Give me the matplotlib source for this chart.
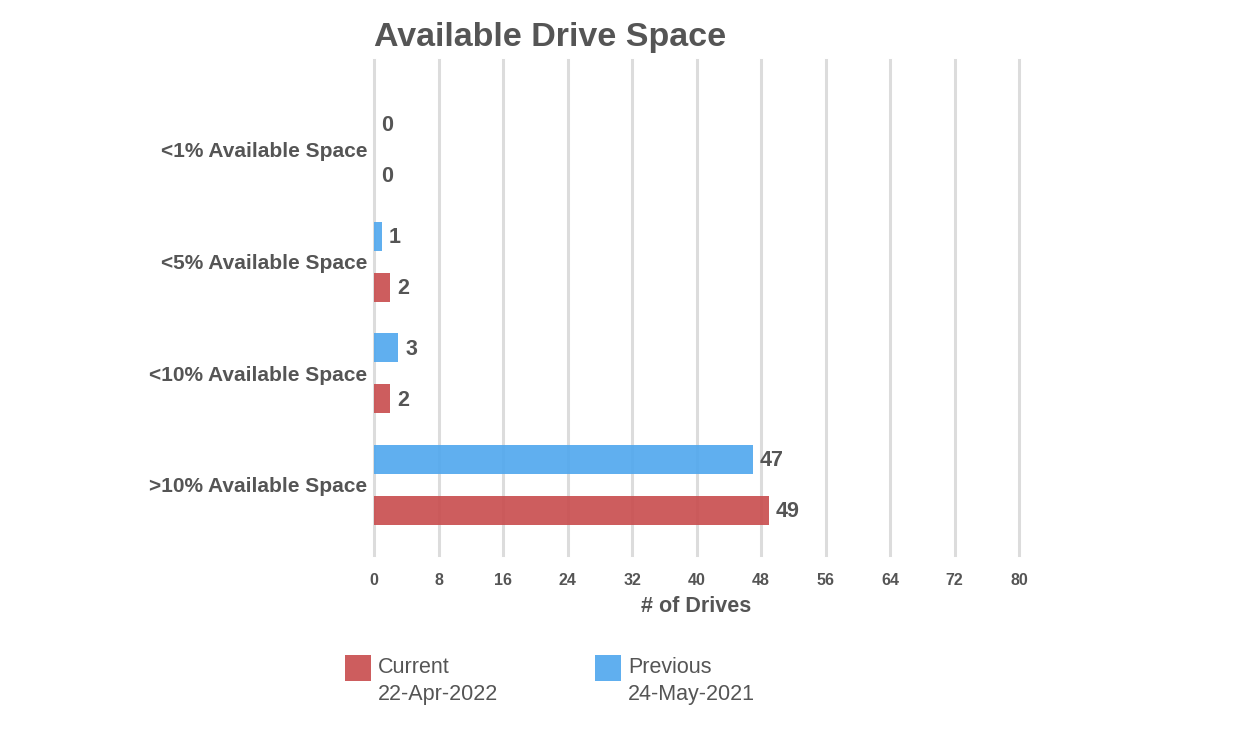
import matplotlib.pyplot as plt
from matplotlib.patches import Rectangle
import numpy as np

plt.rcParams['font.family'] = ['Liberation Sans', 'DejaVu Sans']

categories = ['<1% Available Space', '<5% Available Space',
              '<10% Available Space', '>10% Available Space']
current = [0, 2, 2, 49]
previous = [0, 1, 3, 47]
series_names = ['Current', 'Previous']
series_dates = ['22-Apr-2022', '24-May-2021']
x_ticks = list(range(0, 81, 8))

RED = '#C94F50'
BLUE = '#52A8EE'
TEXT = '#555555'
GRID = '#DCDCDC'

fig = plt.figure(figsize=(12.53, 7.36), dpi=100)
ax = fig.add_axes([0.2985, 0.246, 0.5148, 0.6726])

y = np.arange(len(categories))
bar_h = 0.26
offset = 0.228

ax.barh(y + offset, current, height=bar_h, color=RED, alpha=0.92,
        linewidth=0, zorder=3)
ax.barh(y - offset, previous, height=bar_h, color=BLUE, alpha=0.92,
        linewidth=0, zorder=3)

# value labels
for i in range(len(categories)):
    for val, pos in ((current[i], y[i] + offset), (previous[i], y[i] - offset)):
        ax.annotate(str(val), (val, pos), xytext=(5, -1), textcoords='offset points',
                    ha='left', va='center', fontsize=15.5, fontweight='bold',
                    color=TEXT)

ax.set_xlim(0, 80)
ax.set_ylim(3.627, -0.806)
ax.set_xticks(x_ticks)
ax.set_xticklabels([str(t) for t in x_ticks], fontsize=11.5, fontweight='bold',
                   color=TEXT)
ax.set_yticks(y)
ax.set_yticklabels(categories, fontsize=15, fontweight='bold', color=TEXT)
ax.tick_params(axis='both', length=0)
ax.tick_params(axis='x', pad=13)
ax.tick_params(axis='y', pad=5)
ax.grid(axis='x', color=GRID, linewidth=2.2, zorder=0)
for gl in ax.get_xgridlines():
    gl.set_clip_on(False)
ax.set_axisbelow(True)
for s in ax.spines.values():
    s.set_visible(False)

ax.set_xlabel('# of Drives', fontsize=15.5, fontweight='bold', color=TEXT, labelpad=6)
ax.set_title('Available Drive Space', loc='left', fontsize=24.5, fontweight='bold',
             color=TEXT, pad=10)

# legend drawn at bottom
W, H = 1253, 736
for name, date, col, x0 in ((series_names[0], series_dates[0], RED, 345),
                            (series_names[1], series_dates[1], BLUE, 595)):
    fig.patches.append(Rectangle((x0 / W, 1 - 681 / H), 26 / W, 26 / H,
                                 transform=fig.transFigure, facecolor=col,
                                 alpha=0.92, edgecolor='none'))
    fig.text((x0 + 33) / W, 1 - 657 / H, name + '\n' + date, ha='left', va='top',
             fontsize=15.5, color=TEXT, linespacing=1.35)

fig.savefig('out.png', dpi=100, facecolor='white')
